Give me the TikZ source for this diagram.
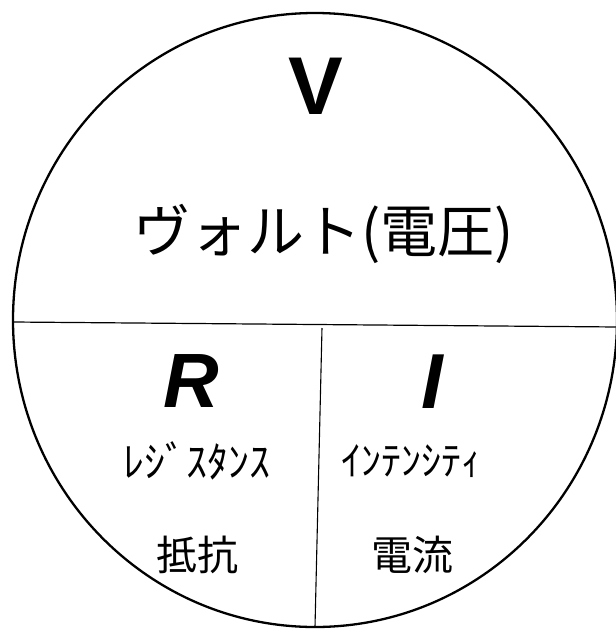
\documentclass[tikz,border=0pt]{standalone}
\usepackage{fontspec}
\usepackage{tikz}
\newfontfamily\jpfont{Noto Sans CJK JP}
\newfontfamily\latfont{Liberation Sans}

\begin{document}
\begin{tikzpicture}[x=1pt,y=-1pt]
       \useasboundingbox (0,0) rectangle (616,630);
       \draw[black, line width=2.3pt] (315,320) ellipse [x radius=302, y radius=307];
       \coordinate (hl) at (13,322);
       \coordinate (hr) at (618,327);
       \coordinate (vt) at (322,328);
       \coordinate (vb) at (315,627);
       \draw[black, line width=1.2pt] (hl) -- (hr);
       \draw[black, line width=1.1pt] (vt) -- (vb);
       \node (volt) at (316,86) {\latfont\bfseries\fontsize{82}{82}\selectfont V};
       \node (voltjp) at (324,234) {\jpfont\fontsize{57}{57}\selectfont ヴォルト(電圧)};
       \node (res) at (191,381) {\latfont\bfseries\itshape\fontsize{77}{77}\selectfont R};
       \node (cur) at (432,382) {\latfont\bfseries\itshape\fontsize{78}{78}\selectfont I};
       \node (reskana) at (197,461) {\jpfont\fontsize{42}{42}\selectfont ﾚｼﾞｽﾀﾝｽ};
       \node (curkana) at (411,461) {\jpfont\fontsize{40}{40}\selectfont ｲﾝﾃﾝｼﾃｨ};
       \node (resjp) at (197,555) {\jpfont\fontsize{41}{41}\selectfont 抵抗};
       \node (curjp) at (412,555) {\jpfont\fontsize{41}{41}\selectfont 電流};
\end{tikzpicture}
\end{document}
